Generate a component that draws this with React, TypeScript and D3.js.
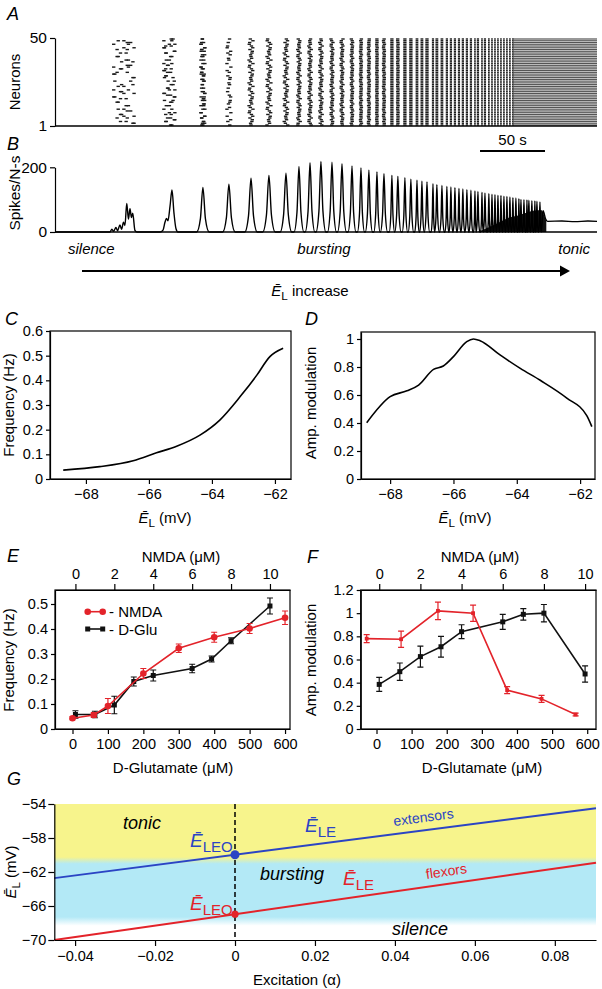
import React, { useRef, useEffect } from "react";
import * as d3 from "d3";

const W = 602;
const H = 989;
const FONT = "Arial, 'Liberation Sans', Helvetica, sans-serif";
const RED = "#e3232a";
const BLUE = "#2b44c4";
const TICK = 14.5;
const LAB = 15;

// ---- A / B : bursts (time in s, rate in spikes/N-s) ----
const burstTimes = [55.4, 90.0, 113.8, 133.8, 150.8, 164.6, 177.7, 187.7, 196.2, 204.6, 213.1, 220.8, 228.5, 235.4, 241.5, 247.7, 253.1, 259.2, 263.8, 269.2, 273.8, 278.5, 282.3, 286.2, 290.8, 293.8, 297.7, 301.5, 304.6, 307.7, 310.8, 313.8, 316.9, 320.0, 323.1, 325.4, 328.5, 330.8, 333.8, 336.2, 338.5, 340.8, 343.1, 345.4, 347.7, 350.0, 352.3, 354.6, 356.9, 358.5, 360.8, 363.1, 364.6, 366.9, 369.2, 370.8, 373.1];
const burstPeaks = [88, 130, 138, 148, 166, 175, 182, 203, 214, 218, 216, 211, 204, 198, 191, 186, 180, 175, 172, 168, 163, 160, 157, 155, 149, 146, 144, 141, 139, 137, 135, 133, 131, 129, 127, 125, 123, 121, 119, 117, 116, 114, 113, 111, 110, 108, 106, 105, 103, 101, 100, 99, 98, 97, 96, 95, 93];
// first two bursts read point by point
const earlyTraceT = [42.3, 43.8, 45.0, 46.9, 48.1, 50.0, 51.2, 52.7, 53.8, 55.2, 56.5, 57.7, 58.8, 59.8, 61.5, 63.1, 80.8, 83.1, 84.6, 85.8, 86.9, 88.5, 90.0, 91.5, 93.1, 94.6];
const earlyTraceV = [0, 9, 2, 14, 4, 22, 8, 30, 20, 88, 40, 72, 45, 58, 5, 0, 0, 6, 30, 42, 35, 80, 130, 60, 10, 0];
const earlyWindows = [[43, 63], [82, 94]];
// dark base of the fast bursts, then tonic firing
const denseT = [325, 333.8, 340.8, 347.7, 356.9, 364.6, 370.8, 374.5, 376.5, 378];
const denseV = [0, 15, 28, 42, 52, 62, 67, 67, 50, 33];
const tailT = [375.5, 377.5, 379, 390, 400, 410, 417];
const tailV = [66, 40, 33, 34, 32, 34, 33];
const tonicStartA = 352.3;
const rowPhase = [0.1, 0.7, 0.35, 0.9, 0.5, 0.2, 0.8, 0.05, 0.6, 0.4, 0.95, 0.25, 0.65];
const rowSkip = [0, 1, 0, 0, 1, 0, 0, 0, 1, 0, 0, 1, 0, 1];

// ---- C / D ----
const cE = [-68.72, -67.56, -66.5, -65.76, -65.12, -64.38, -63.75, -63.11, -62.58, -62.16, -61.74];
const cFreq = [0.036, 0.05, 0.074, 0.106, 0.133, 0.178, 0.239, 0.333, 0.42, 0.496, 0.53];
const dE = [-68.74, -68.0, -67.47, -67.1, -66.63, -66.32, -66.0, -65.58, -65.37, -65.16, -64.53, -63.89, -63.26, -62.42, -61.79, -61.63];
const dAmp = [0.402, 0.588, 0.63, 0.671, 0.783, 0.807, 0.874, 0.981, 1.0, 0.988, 0.886, 0.79, 0.705, 0.578, 0.452, 0.374];

// ---- E ----
const eRedGlu = [0, 60, 100, 200, 300, 400, 500, 600];
const eRedFreq = [0.043, 0.056, 0.092, 0.222, 0.323, 0.367, 0.402, 0.445];
const eRedErr = [0.006, 0.01, 0.03, 0.02, 0.017, 0.02, 0.02, 0.027];
const eBlkNmda = [0, 1, 2, 3, 4, 6, 7, 8, 10];
const eBlkFreq = [0.058, 0.058, 0.096, 0.19, 0.214, 0.242, 0.28, 0.353, 0.492];
const eBlkErr = [0.015, 0.013, 0.035, 0.018, 0.022, 0.017, 0.012, 0.012, 0.032];

// ---- F ----
const fRedGlu = [-28, 70, 175, 275, 372, 470, 567];
const fRedAmp = [0.78, 0.775, 1.02, 1.0, 0.335, 0.26, 0.125];
const fRedErr = [0.035, 0.07, 0.075, 0.07, 0.03, 0.03, 0.012];
const fBlkNmda = [0, 1, 2, 3, 4, 6, 7, 8, 10];
const fBlkAmp = [0.385, 0.495, 0.625, 0.71, 0.84, 0.925, 0.99, 1.0, 0.475];
const fBlkErr = [0.06, 0.075, 0.09, 0.09, 0.06, 0.065, 0.05, 0.075, 0.07];

// ---- G ----
const gAlpha = [-0.0452, 0.0903];
const gExt = [-62.72, -54.5];
const gFlex = [-70, -60.9];
const gExtAt0 = -59.97;
const gFlexAt0 = -66.96;

const fmt = (d) => {
  const s = String(Math.abs(+(+d).toFixed(3)));
  return d < 0 ? "\u2212" + s : s;
};

function styleAxis(g, size = TICK) {
  g.attr("font-family", FONT).attr("font-size", size);
  g.selectAll("path.domain").attr("stroke", "#000").attr("stroke-width", 1.2);
  g.selectAll(".tick line").attr("stroke", "#000").attr("stroke-width", 1.2);
  g.selectAll(".tick text").attr("fill", "#000");
}

// parts: {t, italic, sub, size}
function rich(sel, parts, size) {
  let shift = 0;
  parts.forEach((p) => {
    const ts = sel.append("tspan").text(p.t);
    if (p.italic) ts.attr("font-style", "italic");
    if (p.size) ts.attr("font-size", p.size);
    else if (p.sub) ts.attr("font-size", size * 0.78);
    const target = p.sub ? size * 0.28 : 0;
    if (target !== shift) {
      ts.attr("dy", target - shift);
      shift = target;
    }
  });
  return sel;
}

function text(g, x, y, str, size, opts: any = {}) {
  const t = g.append("text").attr("x", x).attr("y", y).attr("font-size", size)
    .attr("font-family", FONT).attr("fill", opts.color || "#000")
    .attr("text-anchor", opts.anchor || "start");
  if (opts.italic) t.attr("font-style", "italic");
  if (opts.rotate !== undefined) {
    t.attr("x", 0).attr("y", 0).attr("transform", `translate(${x},${y}) rotate(${opts.rotate})`);
  }
  if (typeof str === "string") t.text(str);
  else rich(t, str, size);
  return t;
}

const EL = [{ t: "\u0112", italic: true }, { t: "L", sub: true }];

function drawSeries(g, xs, ys, errs, xS, yS, color, marker) {
  const pts = xs.map((x, i) => [xS(x), yS(ys[i]), errs[i]]);
  g.append("path").attr("d", d3.line()(pts.map((p) => [p[0], p[1]])))
    .attr("fill", "none").attr("stroke", color).attr("stroke-width", 1.6);
  pts.forEach(([x, y, e], i) => {
    const y0 = yS(ys[i] - e), y1 = yS(ys[i] + e);
    g.append("path").attr("d", `M${x},${y0}V${y1}M${x - 3},${y0}H${x + 3}M${x - 3},${y1}H${x + 3}`)
      .attr("stroke", color).attr("stroke-width", 1.2).attr("fill", "none");
    if (marker === "circle") g.append("circle").attr("cx", x).attr("cy", y).attr("r", 3.3).attr("fill", color);
    else {
      const s = marker === "square" ? 5 : 3.8;
      g.append("rect").attr("x", x - s / 2).attr("y", y - s / 2).attr("width", s).attr("height", s).attr("fill", color);
    }
  });
}

const App = () => {
  const ref = useRef(null);

  useEffect(() => {
    const svg = d3.select(ref.current);
    svg.selectAll("*").remove();

    // panel letters
    [["A", 7, 20], ["B", 7, 150], ["C", 5, 325], ["D", 305, 325], ["E", 7, 562], ["F", 307, 563], ["G", 7, 785]]
      .forEach(([l, x, y]) => text(svg, x, y, l, 18, { italic: true }));

    // ===== A & B =====
    const tS = d3.scaleLinear().domain([0, 417]).range([55, 597]);
    const halfW = (i) => {
      const gap = i < burstTimes.length - 1 ? burstTimes[i + 1] - burstTimes[i] : burstTimes[i] - burstTimes[i - 1];
      return Math.min(4.8, 0.45 * gap);
    };

    // A raster
    const rowY = d3.scaleLinear().domain([1, 50]).range([125, 39]);
    const gA = svg.append("g");
    burstTimes.forEach((t, i) => {
      if (t > tonicStartA) return;
      let lo, hi;
      if (i < earlyWindows.length) [lo, hi] = earlyWindows[i];
      else { const hw = halfW(i) * 0.62; lo = t - hw; hi = t + hw; }
      const span = hi - lo;
      const len = Math.min(span, 2.6);
      for (let n = 1; n <= 50; n++) {
        if (i < 4 && rowSkip[(n + i * 2) % rowSkip.length]) continue;
        const reps = i < 3 ? 2 : 1;
        for (let r = 0; r < reps; r++) {
          const k = (n * 5 + i * 3 + r * 6) % rowPhase.length;
          const x0 = tS(lo + rowPhase[k] * (span - len));
          gA.append("rect").attr("x", x0).attr("y", rowY(n) - 0.7)
            .attr("width", Math.max(0.8, tS(lo + len) - tS(lo))).attr("height", 1.4).attr("fill", "#1a1a1a");
        }
      }
    });
    d3.range(1, 51).forEach((n) => {
      gA.append("rect").attr("x", tS(tonicStartA)).attr("y", rowY(n) - 0.6)
        .attr("width", tS(417) - tS(tonicStartA)).attr("height", 1.2).attr("fill", "#555");
    });
    const axA = svg.append("g").attr("transform", "translate(55,0)")
      .call(d3.axisLeft(d3.scaleLinear().domain([1, 50]).range([126, 38])).tickValues([1, 50]).tickSize(5).tickSizeOuter(0).tickPadding(3));
    styleAxis(axA, 15.5);
    svg.append("line").attr("x1", 55).attr("x2", 597).attr("y1", 126).attr("y2", 126).attr("stroke", "#000").attr("stroke-width", 1.3);
    text(svg, 20, 82, "Neurons", 15, { anchor: "middle", rotate: -90 });

    // B rate trace
    const rS = d3.scaleLinear().domain([0, 200]).range([232, 167.3]);
    let pts = [[0, 0]];
    earlyTraceT.forEach((t, i) => pts.push([t, earlyTraceV[i]]));
    burstTimes.forEach((t, i) => {
      if (i < earlyWindows.length) return;
      const hw = halfW(i), p = burstPeaks[i];
      pts.push([t - hw, 0], [t - 0.4 * hw, 0.3 * p], [t, p], [t + 0.4 * hw, 0.3 * p], [t + hw, 0]);
    });
    tailT.forEach((t, i) => pts.push([t, tailV[i]]));
    pts.sort((a, b) => a[0] - b[0]);
    svg.append("path")
      .attr("d", d3.area().x((d) => tS(d[0])).y0(rS(0)).y1((d) => rS(d[1])).curve(d3.curveMonotoneX)(denseT.map((t, i) => [t, denseV[i]])))
      .attr("fill", "#111");
    svg.append("path")
      .attr("d", d3.line().x((d) => tS(d[0])).y((d) => rS(d[1])).curve(d3.curveMonotoneX)(pts))
      .attr("fill", "none").attr("stroke", "#000").attr("stroke-width", 1.4);
    const axB = svg.append("g").attr("transform", "translate(55,0)")
      .call(d3.axisLeft(rS).tickValues([0, 200]).tickSize(5).tickSizeOuter(0).tickPadding(3));
    styleAxis(axB, 15.5);
    svg.append("line").attr("x1", 55).attr("x2", 597).attr("y1", 232).attr("y2", 232).attr("stroke", "#000").attr("stroke-width", 1.3);
    text(svg, 20, 193, "Spikes/N-s", 15.5, { anchor: "middle", rotate: -90 });
    // scale bar 50 s
    svg.append("line").attr("x1", tS(327)).attr("x2", tS(377)).attr("y1", 151).attr("y2", 151).attr("stroke", "#000").attr("stroke-width", 2);
    text(svg, tS(352), 145, "50 s", 15, { anchor: "middle" });
    text(svg, 68, 254, "silence", 15, { italic: true });
    text(svg, 324, 254, "bursting", 15, { italic: true, anchor: "middle" });
    text(svg, 590, 254, "tonic", 15, { italic: true, anchor: "end" });
    svg.append("line").attr("x1", 82).attr("x2", 562).attr("y1", 271).attr("y2", 271).attr("stroke", "#000").attr("stroke-width", 2);
    svg.append("path").attr("d", "M570,271L560,265.5L560,276.5Z").attr("fill", "#000");
    text(svg, 310, 296, [...EL, { t: " increase" }], 15, { anchor: "middle" });

    // ===== C =====
    const cx = d3.scaleLinear().domain([-69.14, -61.49]).range([50, 291]);
    const cy = d3.scaleLinear().domain([0, 0.6]).range([479, 331]);
    svg.append("rect").attr("x", 50).attr("y", 331).attr("width", 241).attr("height", 148).attr("fill", "none").attr("stroke", "#000").attr("stroke-width", 1.2);
    styleAxis(svg.append("g").attr("transform", "translate(0,479)").call(d3.axisBottom(cx).tickValues([-68, -66, -64, -62]).tickFormat(fmt).tickSize(5).tickSizeOuter(0).tickPadding(5)));
    styleAxis(svg.append("g").attr("transform", "translate(50,0)").call(d3.axisLeft(cy).tickValues(d3.range(0, 0.61, 0.1)).tickFormat(fmt).tickSize(4).tickSizeOuter(0).tickPadding(3)));
    svg.append("path").attr("d", d3.line().x((d) => cx(d[0])).y((d) => cy(d[1])).curve(d3.curveMonotoneX)(cE.map((e, i) => [e, cFreq[i]])))
      .attr("fill", "none").attr("stroke", "#000").attr("stroke-width", 1.6);
    text(svg, 14, 405, "Frequency (Hz)", LAB, { anchor: "middle", rotate: -90 });
    text(svg, 165, 523, [...EL, { t: " (mV)" }], LAB, { anchor: "middle" });

    // ===== D =====
    const dx = d3.scaleLinear().domain([-68.92, -61.53]).range([361, 595]);
    const dy = d3.scaleLinear().domain([0, 1.05]).range([479, 332]);
    svg.append("rect").attr("x", 361).attr("y", 332).attr("width", 234).attr("height", 147).attr("fill", "none").attr("stroke", "#000").attr("stroke-width", 1.2);
    styleAxis(svg.append("g").attr("transform", "translate(0,479)").call(d3.axisBottom(dx).tickValues([-68, -66, -64, -62]).tickFormat(fmt).tickSize(5).tickSizeOuter(0).tickPadding(5)));
    styleAxis(svg.append("g").attr("transform", "translate(361,0)").call(d3.axisLeft(dy).tickValues([0, 0.2, 0.4, 0.6, 0.8, 1]).tickFormat(fmt).tickSize(4).tickSizeOuter(0).tickPadding(3)));
    svg.append("path").attr("d", d3.line().x((d) => dx(d[0])).y((d) => dy(d[1])).curve(d3.curveMonotoneX)(dE.map((e, i) => [e, dAmp[i]])))
      .attr("fill", "none").attr("stroke", "#000").attr("stroke-width", 1.6);
    text(svg, 316, 403, "Amp. modulation", LAB, { anchor: "middle", rotate: -90 });
    text(svg, 465, 523, [...EL, { t: " (mV)" }], LAB, { anchor: "middle" });

    // ===== E =====
    const exB = d3.scaleLinear().domain([-49.4, 614]).range([55, 290]);
    const exT = d3.scaleLinear().domain([-1.05, 11.03]).range([55, 290]);
    const ey = d3.scaleLinear().domain([0, 0.556]).range([729, 590]);
    svg.append("rect").attr("x", 55).attr("y", 590).attr("width", 235).attr("height", 139).attr("fill", "none").attr("stroke", "#000").attr("stroke-width", 1.2);
    styleAxis(svg.append("g").attr("transform", "translate(0,729)").call(d3.axisBottom(exB).tickValues(d3.range(0, 601, 100)).tickSize(5).tickSizeOuter(0).tickPadding(5)));
    styleAxis(svg.append("g").attr("transform", "translate(0,590)").call(d3.axisTop(exT).tickValues(d3.range(0, 11, 2)).tickSize(6).tickSizeOuter(0).tickPadding(5)));
    styleAxis(svg.append("g").attr("transform", "translate(55,0)").call(d3.axisLeft(ey).tickValues(d3.range(0, 0.51, 0.1)).tickFormat(fmt).tickSize(4).tickSizeOuter(0).tickPadding(3)));
    drawSeries(svg.append("g"), eBlkNmda, eBlkFreq, eBlkErr, exT, ey, "#111", "square");
    drawSeries(svg.append("g"), eRedGlu, eRedFreq, eRedErr, exB, ey, RED, "circle");
    // legend
    const lg = svg.append("g");
    lg.append("line").attr("x1", 87.7).attr("x2", 102.7).attr("y1", 611.7).attr("y2", 611.7).attr("stroke", RED).attr("stroke-width", 1.6);
    [87.7, 102.7].forEach((x) => lg.append("circle").attr("cx", x).attr("cy", 611.7).attr("r", 3.3).attr("fill", RED));
    lg.append("line").attr("x1", 87.7).attr("x2", 102.7).attr("y1", 629).attr("y2", 629).attr("stroke", "#111").attr("stroke-width", 1.6);
    [87.7, 102.7].forEach((x) => lg.append("rect").attr("x", x - 2.5).attr("y", 626.5).attr("width", 5).attr("height", 5).attr("fill", "#111"));
    text(lg, 109, 617, "- NMDA", LAB);
    text(lg, 109, 634.5, "- D-Glu", LAB);
    text(svg, 14, 660, "Frequency (Hz)", LAB, { anchor: "middle", rotate: -90 });
    text(svg, 181, 562, "NMDA (\u03bcM)", LAB, { anchor: "middle" });
    text(svg, 173, 773, "D-Glutamate (\u03bcM)", LAB, { anchor: "middle" });

    // ===== F =====
    const fxB = d3.scaleLinear().domain([-45, 625]).range([360.7, 596]);
    const fxT = d3.scaleLinear().domain([-0.9, 10.53]).range([360.7, 596]);
    const fy = d3.scaleLinear().domain([0, 1.2]).range([729, 590]);
    svg.append("rect").attr("x", 360.7).attr("y", 590).attr("width", 235.3).attr("height", 139).attr("fill", "none").attr("stroke", "#000").attr("stroke-width", 1.2);
    styleAxis(svg.append("g").attr("transform", "translate(0,729)").call(d3.axisBottom(fxB).tickValues(d3.range(0, 601, 100)).tickSize(5).tickSizeOuter(0).tickPadding(5)));
    styleAxis(svg.append("g").attr("transform", "translate(0,590)").call(d3.axisTop(fxT).tickValues(d3.range(0, 11, 2)).tickSize(6).tickSizeOuter(0).tickPadding(5)));
    styleAxis(svg.append("g").attr("transform", "translate(360.7,0)").call(d3.axisLeft(fy).tickValues([0, 0.2, 0.4, 0.6, 0.8, 1, 1.2]).tickFormat(fmt).tickSize(4).tickSizeOuter(0).tickPadding(3)));
    drawSeries(svg.append("g"), fBlkNmda, fBlkAmp, fBlkErr, fxT, fy, "#111", "square");
    drawSeries(svg.append("g"), fRedGlu, fRedAmp, fRedErr, fxB, fy, RED, "smallsquare");
    text(svg, 316, 660, "Amp. modulation", LAB, { anchor: "middle", rotate: -90 });
    text(svg, 480, 562, "NMDA (\u03bcM)", LAB, { anchor: "middle" });
    text(svg, 482, 773, "D-Glutamate (\u03bcM)", LAB, { anchor: "middle" });

    // ===== G =====
    const gx = d3.scaleLinear().domain(gAlpha).range([54.3, 596]);
    const gy = d3.scaleLinear().domain([-70, -54]).range([940, 804]);
    const defs = svg.append("defs");
    const grad = defs.append("linearGradient").attr("id", "gbg").attr("x1", 0).attr("x2", 0).attr("y1", 0).attr("y2", 1);
    [[0, "#f7f48c"], [0.39, "#f7f48c"], [0.44, "#b3e9f6"], [0.83, "#b3e9f6"], [0.895, "#ffffff"], [1, "#ffffff"]]
      .forEach(([o, c]) => grad.append("stop").attr("offset", o).attr("stop-color", c));
    svg.append("rect").attr("x", 54.3).attr("y", 804).attr("width", 596 - 54.3).attr("height", 136).attr("fill", "url(#gbg)");
    svg.append("line").attr("x1", gx(0)).attr("x2", gx(0)).attr("y1", 804).attr("y2", 940)
      .attr("stroke", "#000").attr("stroke-width", 1.5).attr("stroke-dasharray", "5,3");
    const gline = d3.line().x((d) => gx(d[0])).y((d) => gy(d[1]));
    svg.append("path").attr("d", gline(gAlpha.map((a, i) => [a, gExt[i]]))).attr("stroke", BLUE).attr("stroke-width", 2).attr("fill", "none");
    svg.append("path").attr("d", gline(gAlpha.map((a, i) => [a, gFlex[i]]))).attr("stroke", RED).attr("stroke-width", 2).attr("fill", "none");
    svg.append("circle").attr("cx", gx(0)).attr("cy", gy(gExtAt0)).attr("r", 4.5).attr("fill", BLUE);
    svg.append("circle").attr("cx", gx(0)).attr("cy", gy(gFlexAt0)).attr("r", 3.6).attr("fill", RED);
    styleAxis(svg.append("g").attr("transform", "translate(0,940)").call(d3.axisBottom(gx).tickValues([-0.04, -0.02, 0, 0.02, 0.04, 0.06, 0.08]).tickFormat(fmt).tickSize(6).tickSizeOuter(0).tickPadding(5)));
    styleAxis(svg.append("g").attr("transform", "translate(54.3,0)").call(d3.axisLeft(gy).tickValues([-70, -66, -62, -58, -54]).tickFormat(fmt).tickSize(6).tickSizeOuter(0).tickPadding(2)));
    text(svg, 16, 872, [...EL, { t: " (mV)" }], LAB, { anchor: "middle", rotate: -90 });
    text(svg, 297, 985, "Excitation (\u03b1)", LAB, { anchor: "middle" });
    text(svg, 142, 829, "tonic", 18, { italic: true, anchor: "middle" });
    text(svg, 292, 880, "bursting", 18, { italic: true, anchor: "middle" });
    text(svg, 420, 935, "silence", 18, { italic: true, anchor: "middle" });
    const sub = (s) => [{ t: "\u0112", italic: true }, { t: s, sub: true, size: 15 }];
    text(svg, 190, 847, sub("LEO"), 19, { color: BLUE });
    text(svg, 190, 910, sub("LEO"), 19, { color: RED });
    text(svg, 305, 832, sub("LE"), 19, { color: BLUE });
    text(svg, 343, 885, sub("LE"), 19, { color: RED });
    text(svg, 424, 822, "extensors", 14, { color: BLUE, anchor: "middle", rotate: -7.4 });
    text(svg, 447, 876, "flexors", 14, { color: RED, anchor: "middle", rotate: -8.1 });
  }, []);

  return (
    <svg ref={ref} width={W} height={H} style={{ position: "absolute", left: 0, top: 0, background: "#fff" }} />
  );
};

export default App;
